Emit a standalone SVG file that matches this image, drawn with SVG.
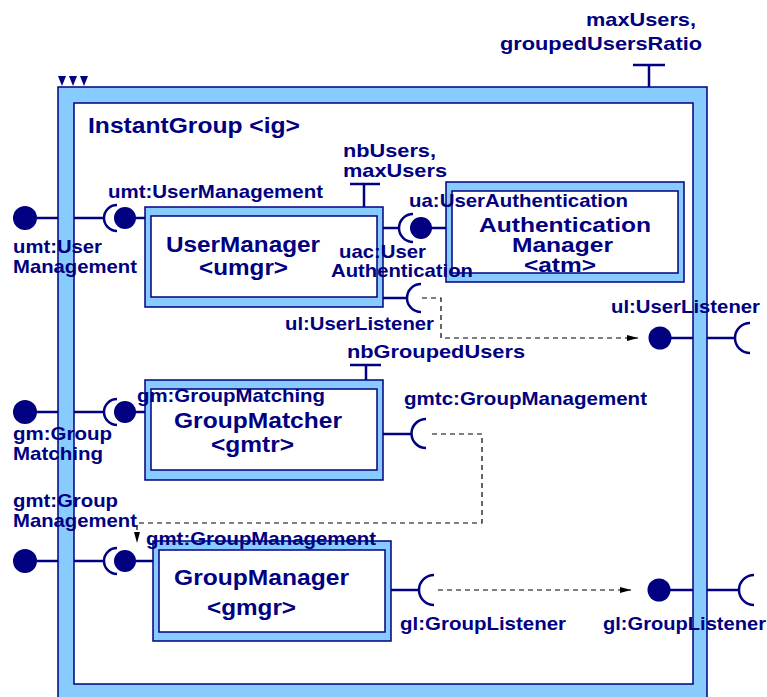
<svg xmlns="http://www.w3.org/2000/svg" width="767" height="697" viewBox="0 0 767 697">
<defs>
<style>
.t{font-family:"Liberation Sans",Arial,sans-serif;font-weight:bold;fill:#000080}
.s{font-size:18.5px}
.n{font-size:22px}
.m{font-size:21px}
.frame{fill:#88CCFF;stroke:#000080;stroke-width:1.5}
.inner{fill:#fff;stroke:#000080;stroke-width:1.5}
.w{stroke:#000080;stroke-width:2.5;fill:none}
.ball{fill:#000080}
.dash{stroke:#000;stroke-width:1.2;fill:none;stroke-dasharray:5 4}
</style>
<marker id="ah" markerUnits="userSpaceOnUse" markerWidth="12" markerHeight="8" refX="11" refY="4" orient="auto">
<path d="M0,1 L11,4 L0,7 z" fill="#000"/>
</marker>
</defs>
<rect width="767" height="697" fill="#fff"/>

<g id="ig">
<rect class="frame" x="58" y="87" width="649" height="640"/>
<rect class="inner" x="74" y="103" width="619" height="581"/>
<path class="ball" d="M58,76 H66 L62,86 Z M69,76 H77 L73,86 Z M80,76 H88 L84,86 Z"/>
<path class="w" d="M649,65 V87 M633,65 H665" stroke-width="3"/>
<circle class="ball" cx="25" cy="218" r="12"/>
<path class="w" d="M37,218 H58 M74,218 H103"/>
<circle class="ball" cx="25" cy="412" r="12"/>
<path class="w" d="M37,412 H58 M74,412 H103"/>
<circle class="ball" cx="25" cy="561" r="12"/>
<path class="w" d="M37,561 H58 M74,561 H103"/>
<circle class="ball" cx="660" cy="338" r="11.5"/>
<path class="w" d="M671,338 H693 M707,338 H735 M750,323 A15,15 0 0 0 750,353"/>
<circle class="ball" cx="659" cy="590" r="11.5"/>
<path class="w" d="M670,590 H693 M707,590 H739 M754,575 A15,15 0 0 0 754,605"/>
<text class="t n" x="88" y="133" textLength="212" lengthAdjust="spacingAndGlyphs">InstantGroup &lt;ig&gt;</text>
<text class="t s" x="586" y="26" textLength="110" lengthAdjust="spacingAndGlyphs">maxUsers,</text>
<text class="t s" x="500" y="50" textLength="202" lengthAdjust="spacingAndGlyphs">groupedUsersRatio</text>
</g>

<g id="umgr">
<rect class="frame" x="145" y="207" width="238" height="100"/>
<rect class="inner" x="151" y="216" width="226" height="81"/>
<path class="w" d="M364,184 V207 M350,184 H380" stroke-width="3"/>
<path class="w" d="M117,205 A13,13 0 0 0 117,231"/>
<circle class="ball" cx="125" cy="218" r="11"/>
<path class="w" d="M136,218 H145"/>
<path class="w" d="M383,228 H399 M413,214 A14,14 0 0 0 413,242"/>
<circle class="ball" cx="421" cy="228" r="11"/>
<path class="w" d="M432,228 H446"/>
<path class="w" d="M383,298 H407 M421,284 A14,14 0 0 0 421,312"/>
<text class="t n" x="166" y="252" textLength="154" lengthAdjust="spacingAndGlyphs">UserManager</text>
<text class="t n" x="199" y="275" textLength="89" lengthAdjust="spacingAndGlyphs">&lt;umgr&gt;</text>
</g>

<g id="atm">
<rect class="frame" x="446" y="182" width="238" height="100"/>
<rect class="inner" x="452" y="191" width="226" height="82"/>
<text class="t m" x="479" y="232" textLength="172" lengthAdjust="spacingAndGlyphs">Authentication</text>
<text class="t m" x="512" y="252" textLength="101" lengthAdjust="spacingAndGlyphs">Manager</text>
<text class="t m" x="524" y="272" textLength="72" lengthAdjust="spacingAndGlyphs">&lt;atm&gt;</text>
</g>

<g id="gmtr">
<rect class="frame" x="145" y="380" width="238" height="100"/>
<rect class="inner" x="151" y="389" width="226" height="81"/>
<path class="w" d="M366,365 V380 M350,365 H381" stroke-width="3"/>
<path class="w" d="M117,399 A13,13 0 0 0 117,425"/>
<circle class="ball" cx="125" cy="412" r="11"/>
<path class="w" d="M136,412 H145"/>
<path class="w" d="M383,434 H412 M426,419 A14.5,14.5 0 0 0 426,448"/>
<text class="t n" x="174" y="428" textLength="168" lengthAdjust="spacingAndGlyphs">GroupMatcher</text>
<text class="t n" x="211" y="452" textLength="83" lengthAdjust="spacingAndGlyphs">&lt;gmtr&gt;</text>
</g>

<g id="gmgr">
<rect class="frame" x="153" y="541" width="238" height="100"/>
<rect class="inner" x="159" y="550" width="226" height="82"/>
<path class="w" d="M117,548 A13,13 0 0 0 117,574"/>
<circle class="ball" cx="125" cy="561" r="11"/>
<path class="w" d="M136,561 H153"/>
<path class="w" d="M391,590 H420 M434,575 A15,15 0 0 0 434,605"/>
<text class="t n" x="174" y="585" textLength="175" lengthAdjust="spacingAndGlyphs">GroupManager</text>
<text class="t n" x="207" y="615" textLength="89" lengthAdjust="spacingAndGlyphs">&lt;gmgr&gt;</text>
</g>

<g id="connectors">
<path class="dash" d="M422,298 H441 V338 H638" marker-end="url(#ah)"/>
<path class="dash" d="M432,434 H482 V523 H137 V543" marker-end="url(#ah)"/>
<path class="dash" d="M438,590 H631" marker-end="url(#ah)"/>
</g>

<g id="labels">
<text class="t s" x="343" y="157" textLength="93" lengthAdjust="spacingAndGlyphs">nbUsers,</text>
<text class="t s" x="343" y="177" textLength="104" lengthAdjust="spacingAndGlyphs">maxUsers</text>
<text class="t s" x="108" y="198" textLength="215" lengthAdjust="spacingAndGlyphs">umt:UserManagement</text>
<text class="t s" x="13" y="253" textLength="89" lengthAdjust="spacingAndGlyphs">umt:User</text>
<text class="t s" x="13" y="273" textLength="124" lengthAdjust="spacingAndGlyphs">Management</text>
<text class="t s" x="409" y="207" textLength="219" lengthAdjust="spacingAndGlyphs">ua:UserAuthentication</text>
<text class="t s" x="339" y="258" textLength="87" lengthAdjust="spacingAndGlyphs">uac:User</text>
<text class="t s" x="331" y="277" textLength="142" lengthAdjust="spacingAndGlyphs">Authentication</text>
<text class="t s" x="285" y="330" textLength="149" lengthAdjust="spacingAndGlyphs">ul:UserListener</text>
<text class="t s" x="611" y="313" textLength="149" lengthAdjust="spacingAndGlyphs">ul:UserListener</text>
<text class="t s" x="347" y="358" textLength="178" lengthAdjust="spacingAndGlyphs">nbGroupedUsers</text>
<text class="t s" x="137" y="402" textLength="188" lengthAdjust="spacingAndGlyphs">gm:GroupMatching</text>
<text class="t s" x="404" y="405" textLength="243" lengthAdjust="spacingAndGlyphs">gmtc:GroupManagement</text>
<text class="t s" x="13" y="440" textLength="99" lengthAdjust="spacingAndGlyphs">gm:Group</text>
<text class="t s" x="13" y="460" textLength="90" lengthAdjust="spacingAndGlyphs">Matching</text>
<text class="t s" x="13" y="507" textLength="105" lengthAdjust="spacingAndGlyphs">gmt:Group</text>
<text class="t s" x="13" y="527" textLength="124" lengthAdjust="spacingAndGlyphs">Management</text>
<text class="t s" x="146" y="545" textLength="230" lengthAdjust="spacingAndGlyphs">gmt:GroupManagement</text>
<text class="t s" x="400" y="630" textLength="166" lengthAdjust="spacingAndGlyphs">gl:GroupListener</text>
<text class="t s" x="603" y="630" textLength="163" lengthAdjust="spacingAndGlyphs">gl:GroupListener</text>
</g>
</svg>
